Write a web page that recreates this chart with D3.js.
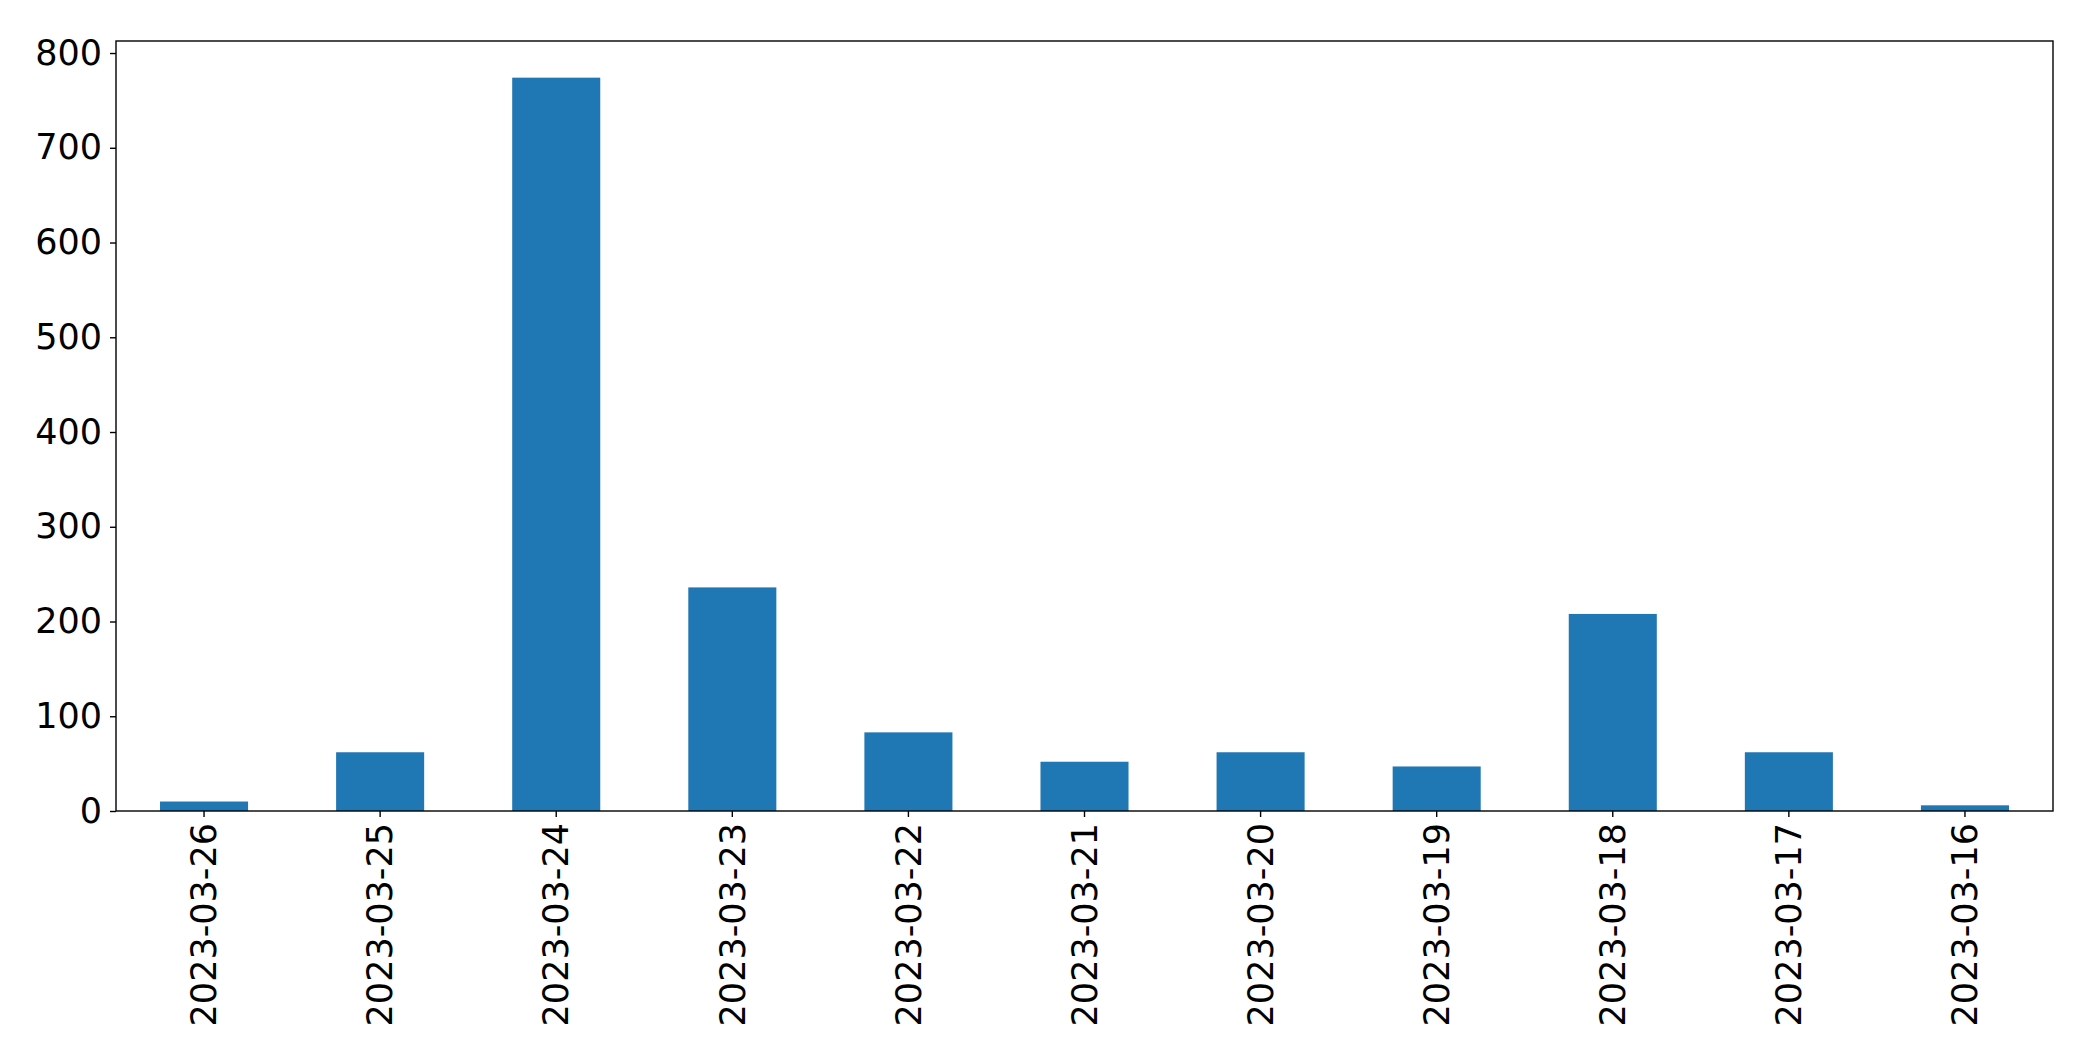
<!DOCTYPE html>
<html><head><meta charset="utf-8">
<script src="https://cdn.jsdelivr.net/npm/d3@7"></script>
<style>html,body{margin:0;padding:0;background:#fff;}svg{display:block;}</style>
</head><body>
<script>
const categories = ["2023-03-26","2023-03-25","2023-03-24","2023-03-23","2023-03-22","2023-03-21","2023-03-20","2023-03-19","2023-03-18","2023-03-17","2023-03-16"];
const values = [10, 62, 774, 236, 83, 52, 62, 47, 208, 62, 6];
const yTicks = [0, 100, 200, 300, 400, 500, 600, 700, 800];

const W = 2093, H = 1063;
const m = {left: 116, top: 41, right: 2053, bottom: 811};
const svg = d3.select("body").append("svg").attr("width", W).attr("height", H);

const x = d3.scaleBand().domain(categories).range([m.left, m.right]).paddingInner(0.5).paddingOuter(0.25);
const y = d3.scaleLinear().domain([0, d3.max(values) * 1.05]).range([m.bottom, m.top]);

svg.append("g").selectAll("rect").data(values).join("rect")
  .attr("x", (d, i) => x(categories[i]))
  .attr("width", x.bandwidth())
  .attr("y", d => y(d))
  .attr("height", d => y(0) - y(d))
  .attr("fill", "#1f77b4");

const font = "'DejaVu Sans', sans-serif";
const yAxis = svg.append("g").attr("transform", `translate(${m.left},0)`)
  .call(d3.axisLeft(y).tickValues(yTicks).tickSize(6).tickPadding(8));
yAxis.select(".domain").remove();
yAxis.selectAll("line").attr("stroke", "#000").attr("stroke-width", 1.4);
yAxis.selectAll("text").attr("font-family", font).attr("font-size", 35).attr("fill", "#000");

const xAxis = svg.append("g").attr("transform", `translate(0,${m.bottom})`)
  .call(d3.axisBottom(x).tickSize(6).tickPadding(8));
xAxis.select(".domain").remove();
xAxis.selectAll("line").attr("stroke", "#000").attr("stroke-width", 1.4);
xAxis.selectAll("text")
  .attr("font-family", font).attr("font-size", 35).attr("fill", "#000")
  .attr("transform", "rotate(-90)")
  .attr("text-anchor", "end")
  .attr("x", -12).attr("y", 0).attr("dy", "0.35em");

svg.append("rect").attr("x", m.left).attr("y", m.top)
  .attr("width", m.right - m.left).attr("height", m.bottom - m.top)
  .attr("fill", "none").attr("stroke", "#000").attr("stroke-width", 1.4);
</script>
</body></html>
